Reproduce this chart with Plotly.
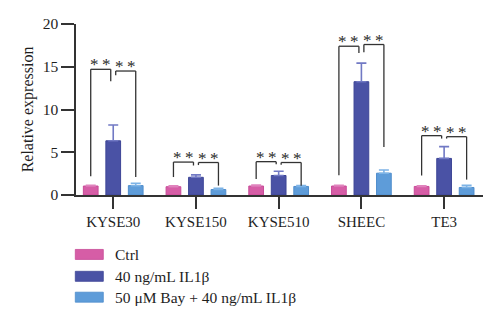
import plotly.graph_objects as go

# ---- data ----
cell_lines = ["KYSE30", "KYSE150", "KYSE510", "SHEEC", "TE3"]
series_names = ["Ctrl", "40 ng/mL IL1β", "50 μM Bay + 40 ng/mL IL1β"]

ctrl_mean = [1.05, 0.97, 1.05, 1.05, 1.0]
ctrl_err = [0.08, 0.1, 0.1, 0.08, 0.07]
il1b_mean = [6.34, 2.07, 2.28, 13.25, 4.28]
il1b_err = [1.85, 0.28, 0.5, 2.17, 1.38]
bay_mean = [1.1, 0.64, 1.0, 2.55, 0.88]
bay_err = [0.28, 0.14, 0.1, 0.38, 0.24]

# significance brackets: (top, left-leg bottom, right-leg bottom)
ctrl_vs_il1b = [(14.7, 2.2, 13.3), (3.85, 2.1, 3.45), (3.9, 1.86, 3.6),
                (17.4, 2.3, 16.6), (6.94, 2.28, 6.6)]
il1b_vs_bay = [(14.5, 14.0, 2.1), (3.8, 3.5, 1.1), (3.8, 3.55, 1.08),
               (17.6, 16.7, 5.6), (6.82, 6.6, 1.8)]
sig_label = "*<span style='font-size:14px'> </span>*"

y_ticks = [0, 5, 10, 15, 20]

# ---- style ----
fill = ["#d65da6", "#4a52a5", "#5e9cd9"]
edge = ["#c84b98", "#3d4596", "#4f8dcc"]
err_col = ["#e083bd", "#7179c4", "#7db3e6"]
axis_col = "#333333"
text_col = "#1e1e1e"
FONT = "Liberation Serif, Times New Roman, serif"
W, H = 500, 324
ML, MR, MT, MB = 76, 17, 23.5, 128.5
BARGAP = 0.184
slot = (1 - BARGAP) / 3

fig = go.Figure()
for k, (mean, err) in enumerate([(ctrl_mean, ctrl_err), (il1b_mean, il1b_err),
                                 (bay_mean, bay_err)]):
    fig.add_trace(go.Bar(
        x=cell_lines, y=mean, name=series_names[k],
        marker=dict(color=fill[k], line=dict(color=edge[k], width=1)),
        error_y=dict(type="data", array=err, arrayminus=[0] * len(err),
                     symmetric=False, color=err_col[k], thickness=1.6, width=5),
        showlegend=False,
    ))

# brackets and stars
shapes = []
annotations = []
line_style = dict(color=axis_col, width=1.3)
for i in range(len(cell_lines)):
    pairs = [
        (i - slot, i - 0.03, ctrl_vs_il1b[i]),
        (i + 0.03, i + slot, il1b_vs_bay[i]),
    ]
    for xa, xb, (top, ya, yb) in pairs:
        for x0, y0, x1, y1 in [(xa, ya, xa, top), (xa, top, xb, top), (xb, top, xb, yb)]:
            shapes.append(dict(type="line", xref="x", yref="y", x0=x0, y0=y0,
                               x1=x1, y1=y1, line=line_style))
        annotations.append(dict(x=(xa + xb) / 2, y=top, xref="x", yref="y",
                                text=sig_label, showarrow=False, yanchor="bottom",
                                yshift=-7, font=dict(family=FONT, size=17, color="#2a2a2a")))

# legend drawn as swatches + labels beneath the axes
plot_h = H - MT - MB
plot_w = W - ML - MR
legend_rows_px = [255.3, 277.3, 298.3]
for k, name in enumerate(series_names):
    yp = (H - MB - legend_rows_px[k]) / plot_h
    shapes.append(dict(type="rect", xref="paper", yref="paper",
                       xsizemode="pixel", ysizemode="pixel",
                       xanchor=0, yanchor=yp, x0=-0.7, x1=27.3, y0=-5, y1=5,
                       fillcolor=fill[k], line=dict(color=edge[k], width=0.8)))
    annotations.append(dict(x=(113.3 - ML) / plot_w, y=yp, xref="paper", yref="paper",
                            text=name, showarrow=False, xanchor="left", yanchor="middle",
                            font=dict(family=FONT, size=15.5, color=text_col)))

fig.update_layout(
    width=W, height=H,
    margin=dict(l=ML, r=MR, t=MT, b=MB, pad=0),
    paper_bgcolor="white", plot_bgcolor="white",
    barmode="group", bargap=BARGAP, bargroupgap=0.346,
    font=dict(family=FONT, color=text_col),
    shapes=shapes, annotations=annotations,
    xaxis=dict(range=[-0.45, 4.47], showline=True, linecolor=axis_col, linewidth=1.5,
               ticks="outside", ticklen=12, tickwidth=1.5, tickcolor=axis_col,
               showgrid=False, zeroline=False, tickfont=dict(size=15, family=FONT)),
    yaxis=dict(range=[0, 20], tickvals=y_ticks, showline=True, linecolor=axis_col,
               linewidth=1.5, ticks="outside", ticklen=13, tickwidth=1.5,
               tickcolor=axis_col, showgrid=False, zeroline=False,
               ticklabelstandoff=0, tickfont=dict(size=15.5, family=FONT),
               title=dict(text="Relative expression", font=dict(size=16, family=FONT),
                          standoff=5)),
)

fig.write_html("out.html")
